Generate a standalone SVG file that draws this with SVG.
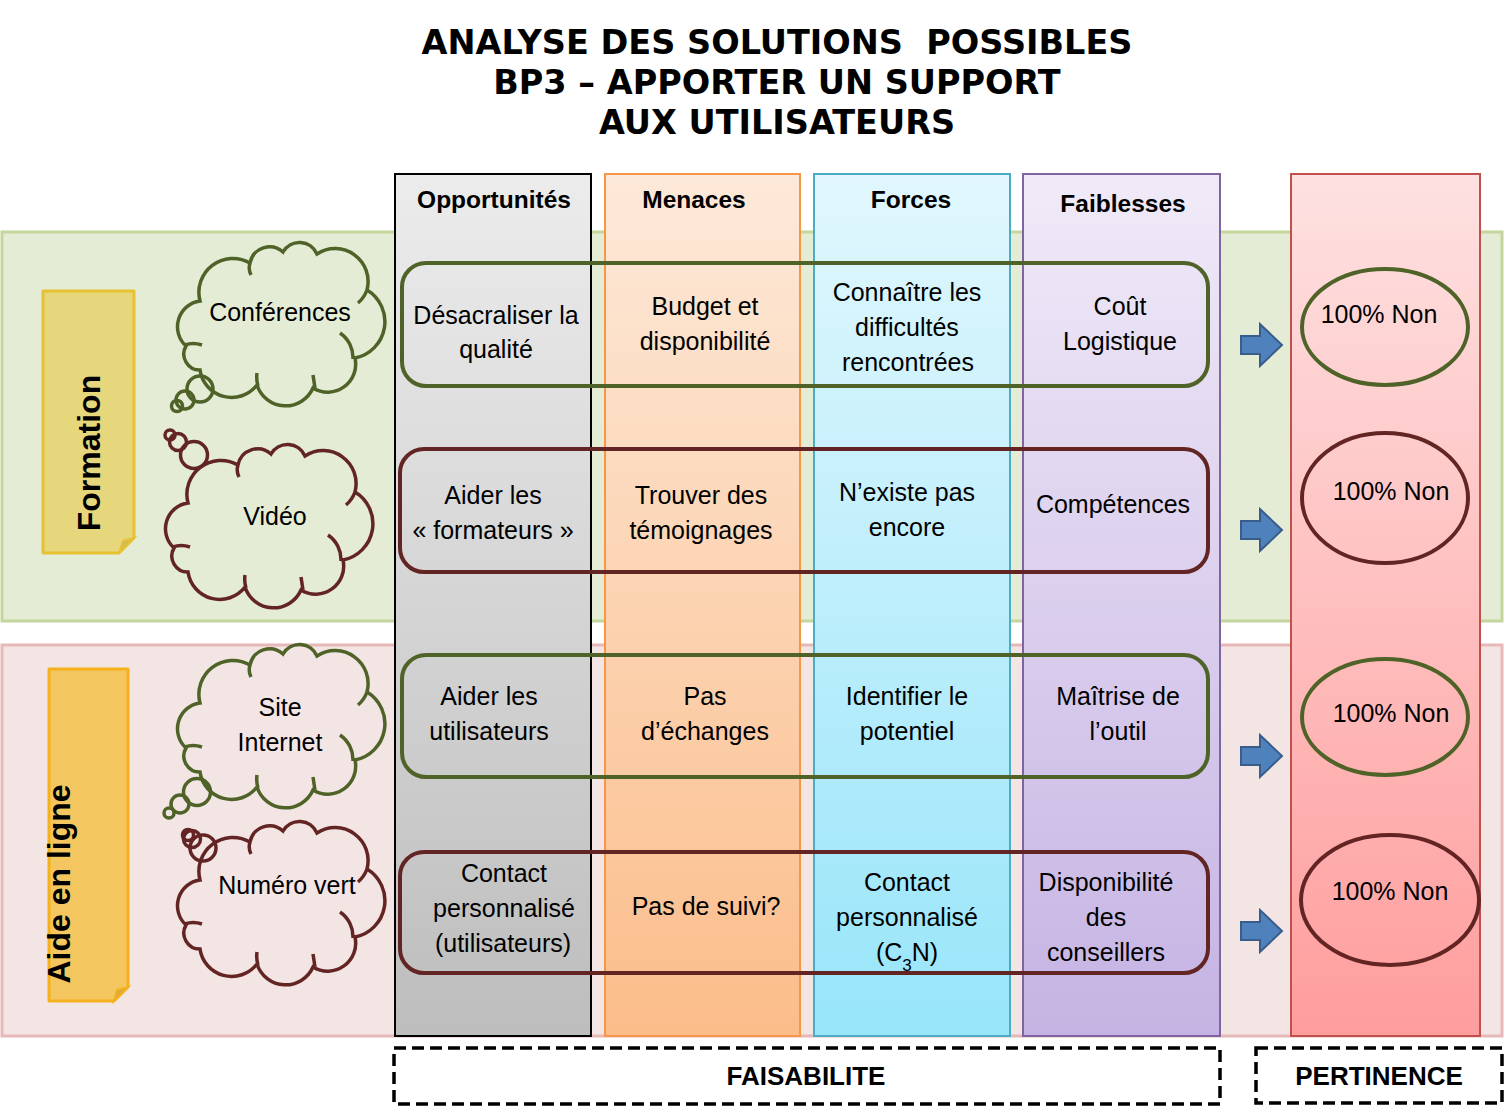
<svg xmlns="http://www.w3.org/2000/svg" width="1506" height="1108" viewBox="0 0 1506 1108">
<style>
.title{font-family:"DejaVu Sans",Verdana,sans-serif;font-weight:bold;font-size:33.5px;fill:#000;text-anchor:middle}
.hd{font-family:"Liberation Sans",Arial,sans-serif;font-weight:bold;font-size:24.5px;fill:#000;text-anchor:middle}
.t{font-family:"Liberation Sans",Arial,sans-serif;font-size:25px;fill:#000;text-anchor:middle}
.ft{font-family:"Liberation Sans",Arial,sans-serif;font-weight:bold;font-size:26px;fill:#000;text-anchor:middle}
.nt{font-family:"Liberation Sans",Arial,sans-serif;font-weight:bold;font-size:32px;fill:#000;text-anchor:middle}
.row{fill:none;stroke-width:4}
.g{stroke:#4f6228}
.r{stroke:#632523}
.cl{fill:none;stroke-width:3.5}
.arr{fill:#4f81bd;stroke:#385d8a;stroke-width:2}
.dash{fill:none;stroke:#000;stroke-width:3.5;stroke-dasharray:12 6}
</style>
<defs>
<linearGradient id="gOpp" x1="0" y1="0" x2="0" y2="1"><stop offset="0" stop-color="#ececec"/><stop offset="1" stop-color="#bdbdbd"/></linearGradient>
<linearGradient id="gMen" x1="0" y1="0" x2="0" y2="1"><stop offset="0" stop-color="#fde9d9"/><stop offset="1" stop-color="#fbbd8a"/></linearGradient>
<linearGradient id="gFor" x1="0" y1="0" x2="0" y2="1"><stop offset="0" stop-color="#e1f7fd"/><stop offset="1" stop-color="#98e5fa"/></linearGradient>
<linearGradient id="gFai" x1="0" y1="0" x2="0" y2="1"><stop offset="0" stop-color="#f0eaf8"/><stop offset="1" stop-color="#c5b3e3"/></linearGradient>
<linearGradient id="gPer" x1="0" y1="0" x2="0" y2="1"><stop offset="0" stop-color="#fee1e1"/><stop offset="1" stop-color="#ff9d9d"/></linearGradient>
<path id="cloud" d="M8,103 A26,26 0 0 1 22,58 A34,34 0 0 1 72,20 A20,20 0 0 1 105,9 A19,19 0 0 1 139,11 A33,33 0 0 1 189,47 A37,37 0 0 1 177,115 A28,28 0 0 1 135,145 A30,30 0 0 1 79,142 A32,32 0 0 1 22,127 A16,16 0 0 1 8,103 Z M7,102 Q15,99 24,102 M162,90 A30,30 0 0 1 175,116 M135,132 L137,145 M79,130 A30,30 0 0 0 80,143 M72,20 Q70,26 73,32 M189,47 Q186,55 180,60"/>
<path id="arrow" d="M-41,-9 H-22 V-21 L0,0 L-22,21 V9 H-41 Z"/>
</defs>
<rect width="1506" height="1108" fill="#fff"/>

<g id="title">
<text class="title" x="777" y="54" xml:space="preserve">ANALYSE DES SOLUTIONS &#160;POSSIBLES</text>
<text class="title" x="777" y="94">BP3 – APPORTER UN SUPPORT</text>
<text class="title" x="777" y="134">AUX UTILISATEURS</text>
</g>

<g id="band-formation"><rect x="2" y="232" width="1500" height="389" fill="#e4ecd6" stroke="#c3d69b" stroke-width="3"/></g>
<g id="band-aide"><rect x="2" y="645" width="1500" height="391" fill="#f4e5e5" stroke="#e6b9b8" stroke-width="3"/></g>

<g id="note-formation">
<path d="M43,291 H134 V538 L119,553 H43 Z" fill="#e6d67c" stroke="#e6c232" stroke-width="3" stroke-linejoin="round"/>
<path d="M134,538 L123,541 L119,553 Z" fill="#cdbb5e" stroke="#e6c232" stroke-width="2"/>
<text class="nt" transform="translate(100,453) rotate(-90)">Formation</text>
</g>
<g id="note-aide">
<path d="M49,669 H128 V987 L114,1001 H49 Z" fill="#f3c660" stroke="#f5b11c" stroke-width="3" stroke-linejoin="round"/>
<path d="M128,987 L117,990 L114,1001 Z" fill="#d9a843" stroke="#f5b11c" stroke-width="2"/>
<text class="nt" transform="translate(70,884) rotate(-90)">Aide en ligne</text>
</g>

<g id="cloud-conferences">
<use href="#cloud" class="cl" stroke="#4f6228" transform="translate(178,243)"/>
<circle cx="200" cy="389" r="13" class="cl" stroke="#4f6228"/>
<circle cx="185" cy="400" r="9" class="cl" stroke="#4f6228"/>
<circle cx="177" cy="406" r="5.5" class="cl" stroke="#4f6228"/>
<text class="t" x="280" y="321">Conférences</text>
</g>
<g id="cloud-video">
<use href="#cloud" class="cl" stroke="#632523" transform="translate(166,445)"/>
<circle cx="194" cy="455" r="13.5" class="cl" stroke="#632523"/>
<circle cx="178" cy="442" r="8.5" class="cl" stroke="#632523"/>
<circle cx="170" cy="435" r="5" class="cl" stroke="#632523"/>
<text class="t" x="275" y="525">Vidéo</text>
</g>
<g id="cloud-site">
<use href="#cloud" class="cl" stroke="#4f6228" transform="translate(178,645)"/>
<circle cx="197" cy="792" r="13.5" class="cl" stroke="#4f6228"/>
<circle cx="180" cy="804" r="9" class="cl" stroke="#4f6228"/>
<circle cx="169" cy="813" r="5" class="cl" stroke="#4f6228"/>
<text class="t" x="280" y="716">Site</text>
<text class="t" x="280" y="751">Internet</text>
</g>
<g id="cloud-numero">
<use href="#cloud" class="cl" stroke="#632523" transform="translate(178,822)"/>
<circle cx="203" cy="848" r="13" class="cl" stroke="#632523"/>
<circle cx="192" cy="839" r="8.5" class="cl" stroke="#632523"/>
<circle cx="188" cy="835" r="5.5" class="cl" stroke="#632523"/>
<text class="t" x="287" y="894">Numéro vert</text>
</g>

<g id="col-opportunites">
<rect x="395" y="174" width="196" height="862" fill="url(#gOpp)" stroke="#000" stroke-width="2"/>
<text class="hd" x="494" y="208">Opportunités</text>
</g>
<g id="col-menaces">
<rect x="605" y="174" width="195" height="862" fill="url(#gMen)" stroke="#f79646" stroke-width="2"/>
<text class="hd" x="694" y="208">Menaces</text>
</g>
<g id="col-forces">
<rect x="814" y="174" width="196" height="862" fill="url(#gFor)" stroke="#4bacc6" stroke-width="2"/>
<text class="hd" x="911" y="208">Forces</text>
</g>
<g id="col-faiblesses">
<rect x="1023" y="174" width="197" height="862" fill="url(#gFai)" stroke="#8064a2" stroke-width="2"/>
<text class="hd" x="1123" y="212">Faiblesses</text>
</g>
<g id="col-pertinence">
<rect x="1291" y="174" width="189" height="862" fill="url(#gPer)" stroke="#c0504d" stroke-width="2"/>
</g>

<g id="row1">
<rect class="row g" x="402" y="263" width="806" height="123" rx="24"/>
<text class="t" x="496" y="324">Désacraliser la</text>
<text class="t" x="496" y="358">qualité</text>
<text class="t" x="705" y="315">Budget et</text>
<text class="t" x="705" y="350">disponibilité</text>
<text class="t" x="907" y="301">Connaître les</text>
<text class="t" x="907" y="336">difficultés</text>
<text class="t" x="908" y="371">rencontrées</text>
<text class="t" x="1120" y="315">Coût</text>
<text class="t" x="1120" y="350">Logistique</text>
</g>
<g id="row2">
<rect class="row r" x="400" y="449" width="808" height="123" rx="24"/>
<text class="t" x="493" y="504">Aider les</text>
<text class="t" x="493" y="539">« formateurs »</text>
<text class="t" x="701" y="504">Trouver des</text>
<text class="t" x="701" y="539">témoignages</text>
<text class="t" x="907" y="501">N’existe pas</text>
<text class="t" x="907" y="536">encore</text>
<text class="t" x="1113" y="513">Compétences</text>
</g>
<g id="row3">
<rect class="row g" x="402" y="655" width="806" height="122" rx="24"/>
<text class="t" x="489" y="705">Aider les</text>
<text class="t" x="489" y="740">utilisateurs</text>
<text class="t" x="705" y="705">Pas</text>
<text class="t" x="705" y="740">d’échanges</text>
<text class="t" x="907" y="705">Identifier le</text>
<text class="t" x="907" y="740">potentiel</text>
<text class="t" x="1118" y="705">Maîtrise de</text>
<text class="t" x="1118" y="740">l’outil</text>
</g>
<g id="row4">
<rect class="row r" x="400" y="852" width="808" height="121" rx="24"/>
<text class="t" x="504" y="882">Contact</text>
<text class="t" x="504" y="917">personnalisé</text>
<text class="t" x="503" y="952">(utilisateurs)</text>
<text class="t" x="706" y="915">Pas de suivi?</text>
<text class="t" x="907" y="891">Contact</text>
<text class="t" x="907" y="926">personnalisé</text>
<text class="t" x="907" y="961">(C<tspan font-size="17" baseline-shift="sub">3</tspan>N)</text>
<text class="t" x="1106" y="891">Disponibilité</text>
<text class="t" x="1106" y="926">des</text>
<text class="t" x="1106" y="961">conseillers</text>
</g>

<g id="connectors">
<use href="#arrow" class="arr" transform="translate(1282,345)"/>
<use href="#arrow" class="arr" transform="translate(1282,530)"/>
<use href="#arrow" class="arr" transform="translate(1282,756)"/>
<use href="#arrow" class="arr" transform="translate(1282,931)"/>
</g>

<g id="result1">
<ellipse cx="1385" cy="327" rx="83" ry="58" fill="none" stroke="#4f6228" stroke-width="4"/>
<text class="t" x="1379" y="323">100% Non</text>
</g>
<g id="result2">
<ellipse cx="1385" cy="498" rx="83" ry="65" fill="none" stroke="#632523" stroke-width="4"/>
<text class="t" x="1391" y="500">100% Non</text>
</g>
<g id="result3">
<ellipse cx="1385" cy="717" rx="83" ry="58" fill="none" stroke="#4f6228" stroke-width="4"/>
<text class="t" x="1391" y="722">100% Non</text>
</g>
<g id="result4">
<ellipse cx="1390" cy="900" rx="89" ry="65" fill="none" stroke="#632523" stroke-width="4"/>
<text class="t" x="1390" y="900">100% Non</text>
</g>

<g id="faisabilite">
<rect class="dash" x="394" y="1048" width="826" height="56"/>
<text class="ft" x="806" y="1085">FAISABILITE</text>
</g>
<g id="pertinence">
<rect class="dash" x="1256" y="1048" width="246" height="55"/>
<text class="ft" x="1379" y="1085">PERTINENCE</text>
</g>
</svg>
